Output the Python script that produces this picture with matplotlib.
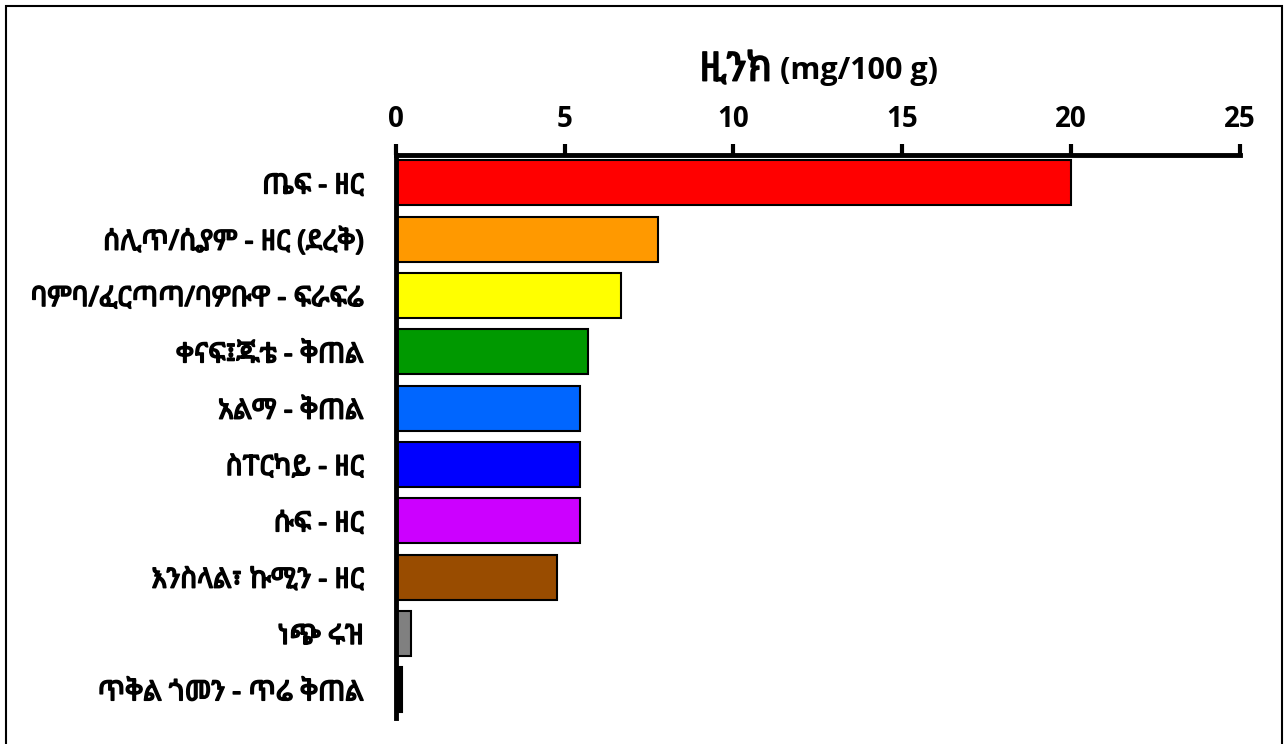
import matplotlib
matplotlib.use("Agg")
import matplotlib.pyplot as plt
import matplotlib.patheffects as pe
from matplotlib import font_manager
from matplotlib.patches import Rectangle
from fontTools.ttLib import TTFont

# datos del gráfico
foods = ['ጤፍ - ዘር', 'ሰሊጥ/ሲያም - ዘር (ደረቅ)', 'ባምባ/ፈርጣጣ/ባዎቡዋ - ፍራፍሬ',
         'ቀናፍ፤ጁቴ - ቅጠል', 'አልማ - ቅጠል', 'ስፐርካይ - ዘር', 'ሱፍ - ዘር',
         'እንስላል፣ ኩሚን - ዘር', 'ነጭ ሩዝ', 'ጥቅል ጎመን - ጥሬ ቅጠል']
zinc = [20.0, 7.77, 6.67, 5.69, 5.45, 5.45, 5.45, 4.77, 0.45, 0.18]
colors = ['#FF0000', '#FF9900', '#FFFF00', '#009900', '#0066FF',
          '#0000FF', '#CC00FF', '#994C00', '#808080', '#000000']
xticks = [0, 5, 10, 15, 20, 25]


def buscar_fuentes_etiopes():
    # familias instaladas que tienen letras etíopes
    encontradas = []
    for f in font_manager.fontManager.ttflist:
        try:
            tt = TTFont(f.fname, fontNumber=0, lazy=True)
            cmap = tt.getBestCmap()
            if cmap and 0x1230 in cmap and 0x12A5 in cmap:
                encontradas.append(f.name)
        except Exception:
            continue
    # preferir familias "Ethiopic" que no sean mono
    encontradas.sort(key=lambda n: ('Mono' in n, 'Ethiopic' not in n, n))
    return encontradas


eths = buscar_fuentes_etiopes()
plt.rcParams['font.family'] = ['Open Sans', 'DejaVu Sans']
fam_eth = (eths[:1] + ['Open Sans', 'DejaVu Sans']) if eths else ['Open Sans', 'DejaVu Sans']
# negrita simulada (la fuente etíope no tiene peso bold)
negrita = [pe.withStroke(linewidth=1.1, foreground='black')]

fig = plt.figure(figsize=(12.85, 7.44), dpi=100)
ax = fig.add_axes([0.308, 0.035, 0.657, 0.757])

y = list(range(len(foods)))
ax.barh(y, zinc, height=0.8, color=colors, edgecolor='black', linewidth=1.5)
ax.set_ylim(len(foods) - 0.5, -0.5)
ax.set_xlim(0, 25)

ax.xaxis.tick_top()
ax.set_xticks(xticks)
ax.set_xticklabels([str(t) for t in xticks], fontsize=20, fontweight='bold')
ax.tick_params(axis='x', direction='out', length=8, width=3, pad=7)
ax.set_yticks(y)
etiquetas = ax.set_yticklabels(foods, fontsize=20, fontweight='bold', family=fam_eth)
for t in etiquetas:
    t.set_path_effects(negrita)
ax.tick_params(axis='y', length=0, pad=23)

for s in ['right', 'bottom']:
    ax.spines[s].set_visible(False)
ax.spines['top'].set_linewidth(3.5)
ax.spines['left'].set_linewidth(3.5)

# título: parte etíope + unidades
fig.text(0.601, 0.905, 'ዚንክ', ha='right', va='center',
         fontsize=29, fontweight='bold', family=fam_eth, path_effects=negrita)
fig.text(0.607, 0.905, '(mg/100 g)', ha='left', va='center',
         fontsize=22, fontweight='bold')

# marco exterior
fig.patches.append(Rectangle((0.005, -0.01), 0.993, 1.002, transform=fig.transFigure,
                             fill=False, edgecolor='black', linewidth=1.5))

fig.savefig('out.png', dpi=100)
